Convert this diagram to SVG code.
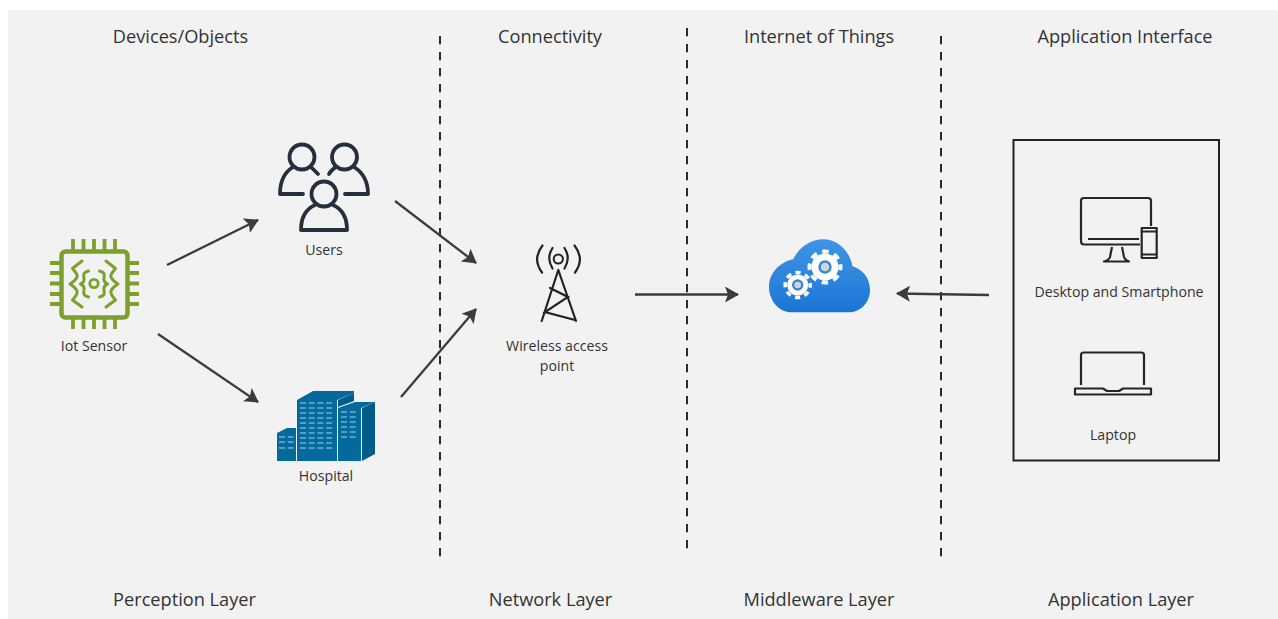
<svg xmlns="http://www.w3.org/2000/svg" width="1278" height="619" viewBox="0 0 1278 619">
<style>
text{font-family:"Open Sans","Noto Sans","Liberation Sans",sans-serif;fill:#333;text-anchor:middle}
.h{font-size:18.200px}
.l{font-size:14.150px}
.div{fill:none;stroke:#2a2a2a;stroke-width:2;stroke-dasharray:8.200 7.800}
.c{fill:none;stroke:#3c3c3c;stroke-width:2.300;marker-end:url(#a)}
.chip{fill:none;stroke:#7d9f2e;stroke-width:4.500}
.pin{fill:none;stroke:#7d9f2e;stroke-width:3.800}
.wave{fill:none;stroke:#7d9f2e;stroke-width:3;stroke-linecap:round;stroke-linejoin:round}
.usr{fill:none;stroke:#252f3e;stroke-width:3.800;stroke-linecap:round;stroke-linejoin:round}
.dev{fill:none;stroke:#262626;stroke-width:2.200;stroke-linejoin:round}
.win{fill:none;stroke:#a5d5ea;stroke-width:1.100;stroke-dasharray:6 2.700}
.twr{fill:none;stroke:#222;stroke-width:2.200;stroke-linecap:round}
</style>
<defs>
<marker id="a" markerWidth="15" markerHeight="16" refX="13" refY="8" orient="auto" markerUnits="userSpaceOnUse"><path d="M0 0 L14 8 L0 16 L3 8Z" fill="#3c3c3c"/></marker>
<linearGradient id="cloud" x1="0" y1="0" x2="0" y2="1"><stop offset="0" stop-color="#3f96e6"/><stop offset="1" stop-color="#1c75d4"/></linearGradient>
</defs>
<rect width="1278" height="619" fill="#fff"/>
<rect x="8" y="10" width="1270" height="609" fill="#f2f2f2"/>
<g id="headers">
<text class="h" x="180.500" y="43">Devices/Objects</text>
<text class="h" x="550" y="43">Connectivity</text>
<text class="h" x="819" y="43">Internet of Things</text>
<text class="h" x="1125" y="43">Application Interface</text>
<text class="h" x="184.500" y="606">Perception Layer</text>
<text class="h" x="550.500" y="606">Network Layer</text>
<text class="h" x="819" y="606">Middleware Layer</text>
<text class="h" x="1121" y="606">Application Layer</text>
</g>
<g id="dividers">
<path class="div" d="M440 36V564"/>
<path class="div" d="M687 28V556"/>
<path class="div" d="M941 36V564"/>
</g>
<g id="connectors">
<path class="c" d="M167 265L258 220"/>
<path class="c" d="M158 334L258 402"/>
<path class="c" d="M395 201L476 263"/>
<path class="c" d="M401 397L476 309"/>
<path class="c" d="M635 294.500H738"/>
<path class="c" d="M989 295L897 293.500"/>
</g>
<g id="iot-sensor">
<rect class="chip" x="61.500" y="251.500" width="66" height="66" rx="4"/>
<path class="pin" d="M73 239V250M83.500 239V250M94 239V250M104.500 239V250M115 239V250M73 319V329M83.500 319V329M94 319V329M104.500 319V329M115 319V329M50 263H60M50 273H60M50 283.500H60M50 294H60M50 304H60M129 263H139M129 273H139M129 283.500H139M129 294H139M129 304H139"/>
<path class="wave" d="M82 261L72.500 268.500C75 272 78 274 77 277C76 280 73 282 70 284C73 286 76 288 77 291C78 294 75 297 72.500 300L82 307"/>
<path class="wave" d="M106 261L115.500 268.500C113 272 110 274 111 277C112 280 115 282 118 284C115 286 112 288 111 291C110 294 113 297 115.500 300L106 307"/>
<path class="wave" stroke-width="2.600" d="M88.500 271C84 272 83 274 84 278C84.500 281 83 283 80.500 284C83 285 84.500 287 84 290C83 294 84 296 88.500 297"/>
<path class="wave" stroke-width="2.600" d="M99.500 271C104 272 105 274 104 278C103.500 281 105 283 107.500 284C105 285 103.500 287 104 290C105 294 104 296 99.500 297"/>
<circle cx="94" cy="283.500" r="4.200" fill="none" stroke="#7d9f2e" stroke-width="2.800"/>
<text class="l" x="94" y="351">Iot Sensor</text>
</g>
<g id="users">
<circle class="usr" cx="302" cy="157" r="12.500"/>
<circle class="usr" cx="344.500" cy="157" r="12.500"/>
<circle class="usr" cx="324" cy="194" r="12.500"/>
<path class="usr" d="M311 167C314 170 316 172 318 174M293 167C285 172 280 181 280 194H303"/>
<path class="usr" d="M335.500 167C332 170 330 172 329 174M354 167C362 172 368 181 368 194H345"/>
<path class="usr" d="M315 205C306 209 301 218 301 230H347C347 218 342 209 333 205"/>
<text class="l" x="324" y="255">Users</text>
</g>
<g id="hospital">
<path fill="#04699c" d="M277 461V433L287 428H296V461ZM297 461V400L313 391H354V393L337 400V461ZM338 461V408L355 402H375L361 408V461Z"/>
<path fill="#025c8a" d="M338 400L354 393V401L338 407ZM362 408L375 402V454L362 461Z"/>
<path class="win" d="M300 403H334M300 408H334M300 413H334M300 418H334M300 423H334M300 428H334M300 433H334M300 438H334M300 443H334M300 448H334M341 412H356M341 417H356M341 422H356M341 427H356M341 432H356M341 437H356M279 437H294M279 442H294M279 448H294"/>
<text class="l" x="326" y="481">Hospital</text>
</g>
<g id="wireless-access-point">
<circle cx="558.300" cy="259" r="4.600" fill="none" stroke="#222" stroke-width="2"/>
<path class="twr" d="M552.500 248Q546 258 552.500 268.500M564.500 248Q571 258 564.500 268.500M542.500 245.500Q532 259 542 272.500M574.500 245.500Q585 259 575 272.500"/>
<path class="twr" d="M558.300 270L541.700 321M558.300 270L576 321M550 288L568 297L545 312L575 320"/>
<text class="l" x="557" y="351">Wireless access</text>
<text class="l" x="557" y="371">point</text>
</g>
<g id="cloud-service">
<path fill="url(#cloud)" d="M791.700 312.300C778.300 312.300 769 300 769 286.700C769 273.300 780 261.700 793.300 259.300C798.300 248.300 810 239.300 823.300 239.300C838.300 239.300 850 251.700 852.300 266C863.300 270 870 278.300 870 290C870 303.300 860 312.300 848.300 312.300Z"/>
<circle cx="825" cy="267" r="13.500" fill="#fff"/>
<circle cx="825" cy="267" r="15.500" fill="none" stroke="#fff" stroke-width="4" stroke-dasharray="6.500 5.673" stroke-dashoffset="3.250"/>
<circle cx="797.700" cy="285" r="10.500" fill="#fff"/>
<circle cx="797.700" cy="285" r="12.500" fill="none" stroke="#fff" stroke-width="3.500" stroke-dasharray="5.200 4.617" stroke-dashoffset="2.600"/>
<circle cx="825" cy="267" r="5.500" fill="#cfd4e0" stroke="#3a86d8" stroke-width="2.400"/>
<circle cx="797.700" cy="285" r="4.500" fill="#cfd4e0" stroke="#3a86d8" stroke-width="2.400"/>
</g>
<g id="application-box">
<rect x="1013.500" y="140" width="205.500" height="320.500" fill="none" stroke="#222" stroke-width="2"/>
</g>
<g id="desktop-smartphone">
<path class="dev" d="M1151 226V201Q1151 198 1148 198H1084Q1081 198 1081 201V241Q1081 244.500 1084 244.500H1140M1088 239H1139M1112 247L1110 257Q1109 260 1104 261.500H1129Q1125 260 1124 257L1122 247"/>
<rect class="dev" x="1141.700" y="228" width="15" height="30"/>
<path class="dev" stroke-width="1.200" d="M1142 231.500H1156M1142 254.500H1156"/>
<text class="l" x="1119" y="297">Desktop and Smartphone</text>
</g>
<g id="laptop">
<path class="dev" d="M1081 385V355Q1081 352.500 1084 352.500H1141Q1144 352.500 1144 355V385"/>
<path class="dev" d="M1075 388.500H1103L1107 391H1119L1123 388.500H1151V394.500H1075Z"/>
<text class="l" x="1113" y="439.500">Laptop</text>
</g>
</svg>
